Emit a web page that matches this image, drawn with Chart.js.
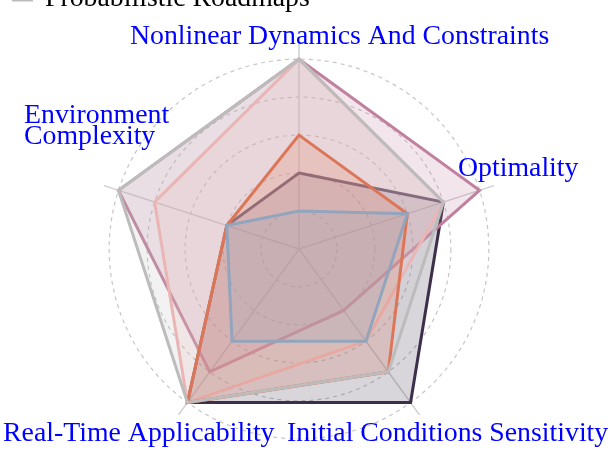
<!DOCTYPE html>
<html>
<head>
<meta charset="utf-8">
<script src="https://cdn.jsdelivr.net/npm/chart.js@4.4.0/dist/chart.umd.min.js"></script>
<style>
html, body { margin: 0; padding: 0; background: #fff; overflow: hidden; }
#canvasradar { display: block; }
</style>
</head>
<body>
<canvas id="canvasradar" width="610" height="470"></canvas>
<script>

// axes, clockwise from the top
var axisLabels = [
	"Nonlinear Dynamics And Constraints",
	"Optimality",
	"Initial Conditions Sensitivity",
	"Real-Time Applicability",
	["Environment", "Complexity"]
];

var methodNames = [
	"Model Predictive Control",
	"Trajectory Optimization",
	"Reinforcement Learning",
	"Rapidly-exploring Random Trees",
	"Artificial Potential Fields",
	"Probabilistic Roadmaps"
];

var mpcScores   = [2, 4, 5, 5, 2];
var trajScores  = [3, 3, 4, 5, 2];
var rlScores    = [5, 5, 2, 4, 5];
var rrtScores   = [5, 4, 3, 5, 4];
var apfScores   = [1, 3, 3, 3, 2];
var prmScores   = [5, 4, 4, 5, 5];

var ringTicks = [1, 2, 3, 4, 5];

function init_chart_radar(){

	if( typeof (Chart) === 'undefined'){ return; }

	var allScores = [mpcScores, trajScores, rlScores, rrtScores, apfScores, prmScores];
	var lineColors = ["#3d2f4a", "#e4643f", "#c0809e", "#f5b3b3", "#93a5bd", "#bcbcbc"];
	var fillColors = [
		"rgba(61, 47, 74, 0.2)",
		"rgba(228, 100, 63, 0.2)",
		"rgba(192, 128, 158, 0.2)",
		"rgba(245, 179, 179, 0.2)",
		"rgba(147, 165, 189, 0.2)",
		"rgba(188, 188, 188, 0.2)"
	];
	// lower number = drawn later (on top)
	var drawOrder = [6, 3, 5, 4, 1, 2];

	var datasets = [];
	for (var i = 0; i < methodNames.length; i++) {
		datasets.push({
			label: methodNames[i],
			data: allScores[i],
			borderColor: lineColors[i],
			backgroundColor: fillColors[i],
			borderWidth: 3,
			pointRadius: 0,
			fill: true,
			order: drawOrder[i]
		});
	}

	// point labels sit where the original figure put them
	var labelLayout = [
		{ x: 130, y: 44 },
		{ x: 458, y: 176 },
		{ x: 287, y: 441 },
		{ x: 3,   y: 441 },
		{ x: 24,  y: 123 }
	];

	var axisTextPlugin = {
		id: 'axisText',
		afterDraw: function(chart){
			var ctx = chart.ctx;
			ctx.save();
			ctx.font = '27.8px "Liberation Serif", "Times New Roman", serif';
			ctx.fillStyle = '#0000ff';
			ctx.textAlign = 'left';
			ctx.textBaseline = 'alphabetic';
			for (var k = 0; k < axisLabels.length; k++) {
				var lines = [].concat(axisLabels[k]);
				for (var j = 0; j < lines.length; j++) {
					ctx.fillText(lines[j], labelLayout[k].x, labelLayout[k].y + j * 21);
				}
			}
			ctx.restore();
		}
	};

	// vertical legend, only the last row falls inside the picture
	var legendPlugin = {
		id: 'stackLegend',
		afterDraw: function(chart){
			var ctx = chart.ctx;
			var sets = chart.data.datasets;
			ctx.save();
			ctx.font = '27.8px "Liberation Serif", "Times New Roman", serif';
			ctx.fillStyle = '#000';
			ctx.textBaseline = 'alphabetic';
			for (var k = 0; k < sets.length; k++) {
				var base = 6 - (sets.length - 1 - k) * 32;
				ctx.strokeStyle = sets[k].borderColor;
				ctx.lineWidth = 3;
				ctx.beginPath();
				ctx.moveTo(12, base - 6);
				ctx.lineTo(33, base - 6);
				ctx.stroke();
				ctx.fillText(sets[k].label, 45, base);
			}
			ctx.restore();
		}
	};

	var chart_radar_settings = {
		type: 'radar',
		data: {
			labels: axisLabels,
			datasets: datasets
		},
		options: {
			responsive: false,
			animation: false,
			devicePixelRatio: 1,
			layout: { padding: { left: 94, right: 106, top: 44, bottom: 16 } },
			plugins: {
				legend: { display: false },
				tooltip: { enabled: false }
			},
			scales: {
				r: {
					min: 0,
					max: 5.4,
					afterBuildTicks: function(scale){
						scale.ticks = ringTicks.map(function(v){ return { value: v }; });
						scale.ticks.unshift({ value: 0 });
					},
					ticks: { display: false, stepSize: 1, includeBounds: false },
					pointLabels: { display: false },
					grid: { circular: true, color: '#c6c6c6', lineWidth: 1.2 },
					border: { dash: [4, 4] },
					angleLines: { color: '#cfcfcf', lineWidth: 1.5 }
				}
			}
		},
		plugins: [axisTextPlugin, legendPlugin]
	};

	var chart_radar = new Chart(document.getElementById('canvasradar'), chart_radar_settings);
}

init_chart_radar();
</script>
</body>
</html>
